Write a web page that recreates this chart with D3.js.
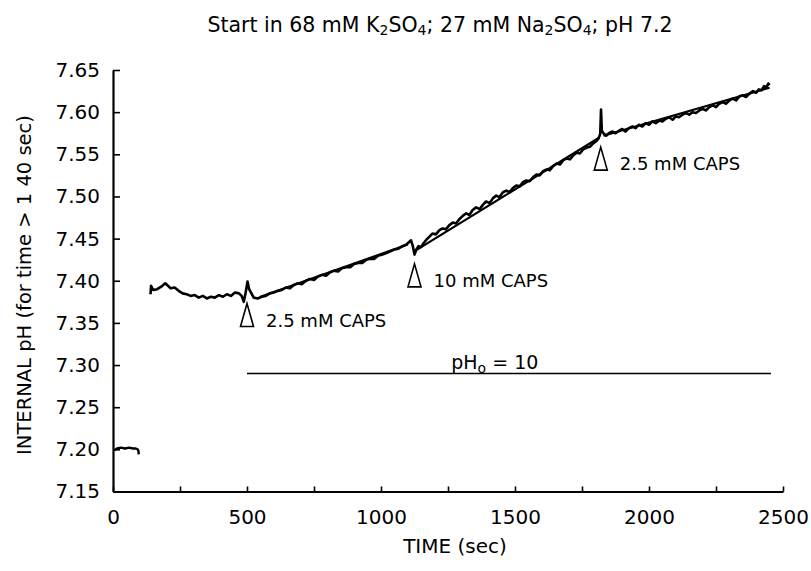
<!DOCTYPE html>
<html>
<head>
<meta charset="utf-8">
<script src="https://cdn.jsdelivr.net/npm/d3@7"></script>
<style>
  body { margin: 0; background: #fff; }
  text { font-family: "DejaVu Sans", sans-serif; fill: #000; }
</style>
</head>
<body>
<div id="okvir"></div>
<script>
// podaci ocitani sa slike
const pocetakVrijeme = [5, 15, 30, 45, 60, 75, 85, 92, 95, 96]
const pocetakPH = [7.199, 7.201, 7.202, 7.201, 7.202, 7.201, 7.201, 7.200, 7.198, 7.194]

const tragVrijeme = [140, 142, 150, 165, 180, 195, 205, 215, 230, 245, 260, 275, 290, 305, 320, 335, 350, 365, 380, 395,
  410, 425, 440, 455, 470, 480, 488, 495, 502, 508, 515, 525,
  540, 555, 570, 585, 600, 615, 630, 645, 660, 675, 690, 705, 720, 735, 750, 765, 780, 795, 810, 825,
  840, 855, 870, 885, 900, 915, 930, 945, 960, 975, 990, 1005, 1020, 1035, 1050, 1065, 1080, 1095, 1105, 1112,
  1118, 1125, 1132, 1140, 1150, 1160, 1170, 1180, 1192, 1205, 1218, 1230, 1242, 1255, 1268, 1280, 1292, 1305, 1318, 1330,
  1342, 1355, 1368, 1380, 1392, 1405, 1418, 1430, 1442, 1455, 1468, 1480, 1492, 1505, 1518, 1530, 1542, 1555, 1568, 1580,
  1592, 1605, 1618, 1630, 1642, 1655, 1668, 1680, 1692, 1705, 1718, 1730, 1742, 1755, 1768, 1780, 1792, 1805, 1812, 1818,
  1821, 1824, 1830, 1840, 1850, 1862, 1875, 1888, 1900, 1912, 1925, 1938, 1950, 1962, 1975, 1988, 2000, 2012, 2025, 2038,
  2050, 2062, 2075, 2088, 2100, 2112, 2125, 2138, 2150, 2162, 2175, 2188, 2200, 2212, 2225, 2238, 2250, 2262, 2275, 2288,
  2300, 2312, 2325, 2338, 2350, 2362, 2375, 2388, 2400, 2410, 2420, 2430, 2438, 2445, 2450]
const tragPH = [7.384, 7.394, 7.389, 7.390, 7.393, 7.397, 7.394, 7.391, 7.392, 7.388, 7.385, 7.384, 7.382, 7.383, 7.380, 7.382, 7.379, 7.381, 7.380, 7.383,
  7.381, 7.384, 7.382, 7.386, 7.385, 7.382, 7.375, 7.386, 7.399, 7.390, 7.386, 7.380,
  7.379, 7.381, 7.382, 7.385, 7.386, 7.388, 7.389, 7.392, 7.391, 7.395, 7.397, 7.396, 7.400, 7.402, 7.401, 7.405, 7.407, 7.406, 7.410, 7.412,
  7.411, 7.415, 7.416, 7.416, 7.420, 7.421, 7.421, 7.425, 7.426, 7.426, 7.430, 7.431, 7.433, 7.435, 7.437, 7.438, 7.441, 7.443, 7.446, 7.448,
  7.442, 7.431, 7.437, 7.441, 7.440, 7.445, 7.449, 7.452, 7.456, 7.455, 7.460, 7.462, 7.461, 7.466, 7.469, 7.468, 7.473, 7.477, 7.480, 7.478,
  7.484, 7.487, 7.485, 7.490, 7.494, 7.492, 7.498, 7.501, 7.499, 7.505, 7.507, 7.505, 7.510, 7.513, 7.512, 7.517, 7.519, 7.518, 7.523, 7.526,
  7.525, 7.530, 7.532, 7.531, 7.536, 7.539, 7.538, 7.543, 7.545, 7.544, 7.549, 7.552, 7.551, 7.556, 7.558, 7.559, 7.563, 7.566, 7.569, 7.574,
  7.603, 7.578, 7.575, 7.572, 7.575, 7.577, 7.575, 7.578, 7.580, 7.577, 7.581, 7.583, 7.581, 7.585, 7.583, 7.587, 7.585, 7.589, 7.587, 7.590,
  7.589, 7.592, 7.594, 7.591, 7.595, 7.594, 7.597, 7.599, 7.597, 7.600, 7.599, 7.602, 7.604, 7.602, 7.606, 7.608, 7.606, 7.610, 7.612, 7.610,
  7.614, 7.616, 7.614, 7.619, 7.620, 7.618, 7.622, 7.625, 7.623, 7.627, 7.626, 7.631, 7.629, 7.634, 7.632]

// pravci prilagodbe (pocetak i kraj)
const pravacVrijeme = [[550, 1100], [1130, 1815], [1830, 2450]]
const pravacPH = [[7.381, 7.443], [7.436, 7.570], [7.572, 7.629]]

// dodavanje CAPS-a
const oznakeVrijeme = [500, 1125, 1820]
const oznakePH = [7.373, 7.420, 7.5585]
const oznakeTekst = ["2.5 mM CAPS", "10 mM CAPS", "2.5 mM CAPS"]

// pHo = 10 razdoblje
const phoVrijeme = [500, 2455]
const phoRazina = 7.29

const xTickovi = d3.range(0, 2501, 250)
const yTickovi = [7.15, 7.20, 7.25, 7.30, 7.35, 7.40, 7.45, 7.50, 7.55, 7.60, 7.65]

// dimenzije
let dimenzije = {
  sirina: 811,
  visina: 571,
  margine: { top: 70, right: 28, bottom: 79.5, left: 113 },
}
dimenzije.grSirina = dimenzije.sirina - dimenzije.margine.left - dimenzije.margine.right
dimenzije.grVisina = dimenzije.visina - dimenzije.margine.top - dimenzije.margine.bottom

const okvir = d3.select("#okvir")
  .append("svg")
    .attr("width", dimenzije.sirina)
    .attr("height", dimenzije.visina)

const granice = okvir.append("g")
    .attr("transform", `translate(${dimenzije.margine.left},${dimenzije.margine.top})`)

// razmjeri
const xSkala = d3.scaleLinear()
  .domain([0, 2500])
  .range([0, dimenzije.grSirina])

const ySkala = d3.scaleLinear()
  .domain([7.15, 7.65])
  .range([dimenzije.grVisina, 0])

// podaci
const linija = d3.line()
  .x(d => xSkala(d[0]))
  .y(d => ySkala(d[1]))

granice.append("path")
    .datum(d3.zip(pocetakVrijeme, pocetakPH))
    .attr("d", linija)
    .attr("fill", "none")
    .attr("stroke", "#000")
    .attr("stroke-width", 2.4)
    .attr("stroke-linejoin", "round")

granice.append("path")
    .datum(d3.zip(tragVrijeme, tragPH))
    .attr("d", linija)
    .attr("fill", "none")
    .attr("stroke", "#000")
    .attr("stroke-width", 2.6)
    .attr("stroke-linejoin", "round")

granice.selectAll(".pravac")
  .data(pravacVrijeme.map((t, i) => d3.zip(t, pravacPH[i])))
  .join("path")
    .attr("class", "pravac")
    .attr("d", linija)
    .attr("fill", "none")
    .attr("stroke", "#000")
    .attr("stroke-width", 2.2)

// pHo linija
granice.append("line")
    .attr("x1", xSkala(phoVrijeme[0]))
    .attr("x2", xSkala(phoVrijeme[1]))
    .attr("y1", ySkala(phoRazina))
    .attr("y2", ySkala(phoRazina))
    .attr("stroke", "#000")
    .attr("stroke-width", 1.6)

const phoTekst = granice.append("text")
    .attr("x", xSkala(1262))
    .attr("y", ySkala(phoRazina) - 4)
    .style("font-size", "19px")
phoTekst.append("tspan").text("pH")
phoTekst.append("tspan").text("o").attr("dy", 4).style("font-size", "14px")
phoTekst.append("tspan").text(" = 10").attr("dy", -4)

// oznake dodavanja
const oznake = granice.selectAll(".oznaka")
  .data(oznakeVrijeme.map((t, i) => ({ t: t, ph: oznakePH[i], tekst: oznakeTekst[i] })))
  .join("g")
    .attr("class", "oznaka")
    .attr("transform", d => `translate(${xSkala(d.t)},${ySkala(d.ph)})`)

oznake.append("path")
    .attr("d", "M0,0 L6.5,23 L-6.5,23 Z")
    .attr("fill", "#fff")
    .attr("stroke", "#000")
    .attr("stroke-width", 1.6)

oznake.append("text")
    .attr("x", 19)
    .attr("y", 23)
    .style("font-size", "18px")
    .text(d => d.tekst)

// osi
const xOsGenerator = d3.axisBottom(xSkala)
  .tickValues(xTickovi)
  .tickSizeInner(-5)
  .tickSizeOuter(0)
  .tickPadding(18)
  .tickFormat(d => d % 500 === 0 ? d : "")

const xOs = granice.append("g")
    .attr("transform", `translate(0,${dimenzije.grVisina})`)
    .call(xOsGenerator)

const yOsGenerator = d3.axisLeft(ySkala)
  .tickValues(yTickovi)
  .tickSizeInner(-7)
  .tickSizeOuter(0)
  .tickPadding(13)
  .tickFormat(d3.format(".2f"))

const yOs = granice.append("g")
    .call(yOsGenerator)

granice.selectAll(".domain").attr("stroke-width", 2.2)
granice.selectAll(".tick line").attr("stroke-width", 1.6)
granice.selectAll(".tick text")
    .style("font-family", "\"DejaVu Sans\", sans-serif")
    .style("font-size", "20px")

// naslovi
const naslov = okvir.append("text")
    .attr("x", 440)
    .attr("y", 32)
    .attr("text-anchor", "middle")
    .style("font-size", "20.5px")
naslov.append("tspan").text("Start in 68 mM K")
naslov.append("tspan").text("2").attr("dy", 3).style("font-size", "14px")
naslov.append("tspan").text("SO").attr("dy", -3)
naslov.append("tspan").text("4").attr("dy", 3).style("font-size", "14px")
naslov.append("tspan").text("; 27 mM Na").attr("dy", -3)
naslov.append("tspan").text("2").attr("dy", 3).style("font-size", "14px")
naslov.append("tspan").text("SO").attr("dy", -3)
naslov.append("tspan").text("4").attr("dy", 3).style("font-size", "14px")
naslov.append("tspan").text("; pH 7.2").attr("dy", -3)

okvir.append("text")
    .attr("x", 455)
    .attr("y", 553)
    .attr("text-anchor", "middle")
    .style("font-size", "20px")
    .text("TIME (sec)")

okvir.append("text")
    .attr("transform", "translate(31,285) rotate(-90)")
    .attr("text-anchor", "middle")
    .style("font-size", "19.5px")
    .text("INTERNAL pH (for time > 1 40 sec)")
</script>
</body>
</html>
